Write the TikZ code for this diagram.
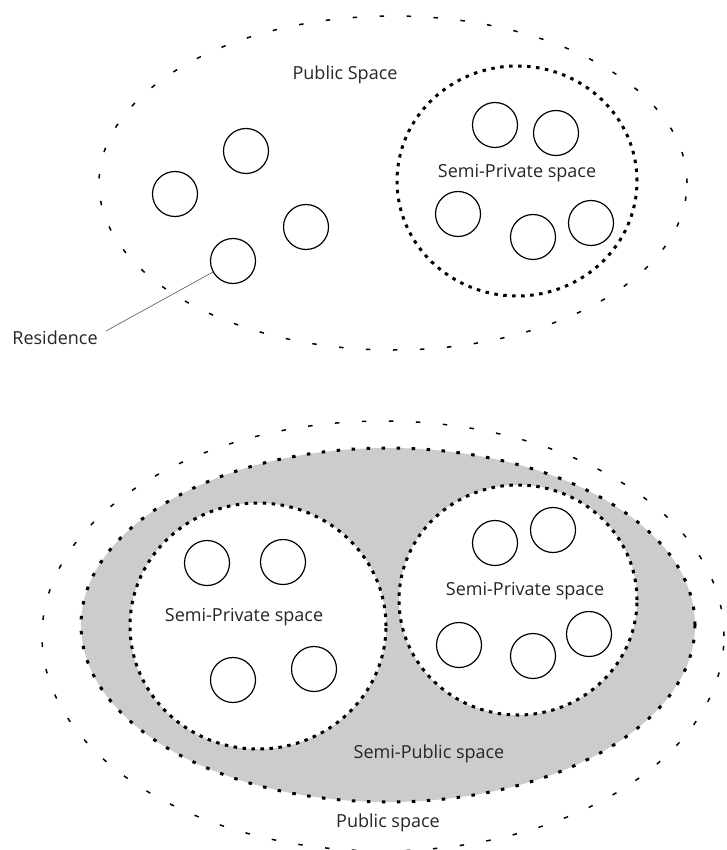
\documentclass[tikz,border=0pt]{standalone}
\usepackage{fontspec}
\setmainfont{Open Sans}
\begin{document}
\begin{tikzpicture}[x=1pt,y=-1pt,
  outerdash/.style={line width=1.5pt,dash pattern=on 4.5pt off 22.5pt,draw=black},
  graydot/.style={line width=3pt,dash pattern=on 3.5pt off 11.5pt,draw=black,fill=gray!40},
  semidot/.style={line width=3pt,dash pattern=on 3.5pt off 5.5pt,draw=black,fill=white},
  house/.style={circle,draw=black,line width=1.2pt,minimum size=45pt,inner sep=0pt},
  lbl/.style={font=\fontsize{18}{20}\selectfont,text=black!85,inner sep=0pt},
  leader/.style={draw=black!60,line width=0.7pt}]
\useasboundingbox (0,0) rectangle (726,850);
% ---------- top diagram ----------
\draw[outerdash] (393,183) ellipse [x radius=294pt,y radius=167pt];
\draw[semidot] (517,181) ellipse [x radius=120pt,y radius=115pt];
\node[lbl] (pubtop) at (345,75) {Public Space};
\node[lbl] (semitop) at (517,173) {Semi-Private space};
\node[house] (t1) at (246,151) {};
\node[house] (t2) at (175,194) {};
\node[house] (t3) at (306,227) {};
\node[house] (t4) at (233,261) {};
\node[house] (t5) at (495,125) {};
\node[house] (t6) at (556,133) {};
\node[house] (t7) at (458,214) {};
\node[house] (t8) at (533,237) {};
\node[house] (t9) at (591,223) {};
\node[lbl] (res) at (55,338) {Residence};
\coordinate (resend) at (106,331);
\draw[leader] (resend) -- (t4);
% ---------- bottom diagram ----------
\draw[outerdash] (383,636) ellipse [x radius=341pt,y radius=215pt];
\draw[graydot] (388,625) ellipse [x radius=307pt,y radius=177pt];
\draw[semidot] (258,626) ellipse [x radius=128pt,y radius=123pt];
\draw[semidot] (518,600) ellipse [x radius=119pt,y radius=115pt];
\node[lbl] (semil) at (244,617) {Semi-Private space};
\node[lbl] (semir) at (525,591) {Semi-Private space};
\node[lbl] (semipub) at (429,754) {Semi-Public space};
\node[lbl] (pubbot) at (388,823) {Public space};
\node[house] (b1) at (207,563) {};
\node[house] (b2) at (283,562) {};
\node[house] (b3) at (233,680) {};
\node[house] (b4) at (314,669) {};
\node[house] (b5) at (495,543) {};
\node[house] (b6) at (553,530) {};
\node[house] (b7) at (459,645) {};
\node[house] (b8) at (533,656) {};
\node[house] (b9) at (589,634) {};
\end{tikzpicture}
\end{document}
